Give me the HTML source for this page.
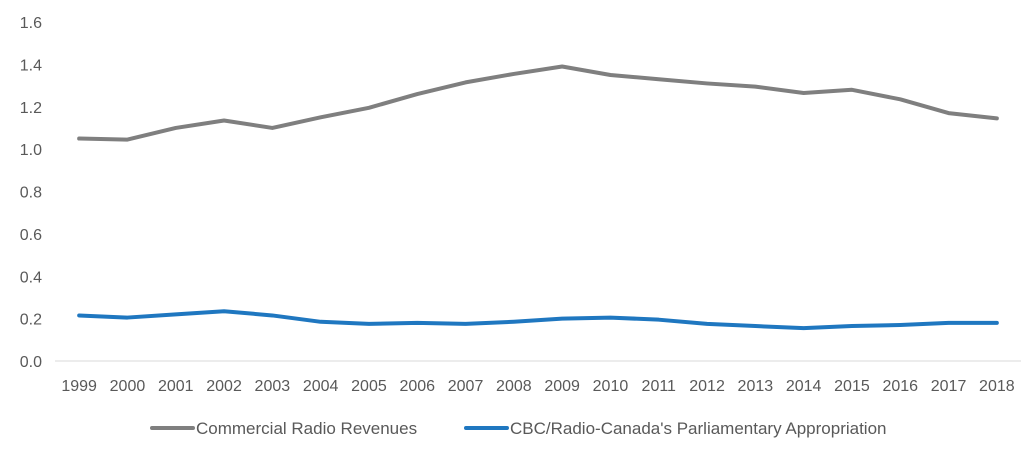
<!DOCTYPE html>
<html><head><meta charset="utf-8"><style>
body{margin:0;background:#fff;}
svg text{font-family:"Liberation Sans",sans-serif;fill:#595959;}
</style></head><body>
<svg id="chart" width="1031" height="458">
<g id="yaxis"></g>
<g id="xaxis"></g>
<g id="series"></g>
<g>
<g>
<line x1="152" y1="428" x2="193" y2="428" stroke="#7f7f7f" stroke-width="4" stroke-linecap="round"/>
<text x="196" y="434" font-size="17">Commercial Radio Revenues</text></g>
<g>
<line x1="466" y1="428" x2="507" y2="428" stroke="#1f77c0" stroke-width="4" stroke-linecap="round"/>
<text x="510" y="434" font-size="17">CBC/Radio-Canada's Parliamentary Appropriation</text></g>
</g>
</svg>
<script>
const years=[1999,2000,2001,2002,2003,2004,2005,2006,2007,2008,2009,2010,2011,2012,2013,2014,2015,2016,2017,2018];
const commercial=[1.05,1.045,1.10,1.135,1.10,1.15,1.195,1.26,1.315,1.355,1.39,1.35,1.33,1.31,1.295,1.265,1.28,1.235,1.17,1.145];
const cbc=[0.215,0.205,0.22,0.235,0.215,0.185,0.175,0.18,0.175,0.185,0.2,0.205,0.195,0.175,0.165,0.155,0.165,0.17,0.18,0.18];
const yTicks=[0,0.2,0.4,0.6,0.8,1.0,1.2,1.4,1.6];
const NS="http://www.w3.org/2000/svg";
const pLeft=55,pRight=1021,plotTop=22,pBottom=361,ymax=1.6;
const bw=(pRight-pLeft)/years.length;
const xs=i=>pLeft+bw*(i+0.5);
const ys=v=>pBottom-(v/ymax)*(pBottom-plotTop);
function mk(tag,attrs,parent){const e=document.createElementNS(NS,tag);for(const k in attrs)e.setAttribute(k,attrs[k]);parent.appendChild(e);return e;}
const ya=document.getElementById('yaxis'),xa=document.getElementById('xaxis'),sg=document.getElementById('series');
yTicks.forEach(t=>{const e=mk('text',{x:42,y:ys(t)+6,'font-size':16,'text-anchor':'end'},ya);e.textContent=t.toFixed(1);

});
const bl=mk('line',{x1:pLeft,x2:pRight,y1:pBottom,y2:pBottom,stroke:'#d9d9d9','stroke-width':1},xa);


years.forEach((yr,i)=>{const e=mk('text',{x:xs(i),y:391,'font-size':16,'text-anchor':'middle'},xa);e.textContent=yr;

});
function line(vals,color,name){const p=mk('polyline',{points:vals.map((v,i)=>xs(i)+','+ys(v)).join(' '),fill:'none',stroke:color,'stroke-width':4,'stroke-linejoin':'round','stroke-linecap':'round'},sg);

}
line(commercial,'#7f7f7f','commercial-radio-line');
line(cbc,'#1f77c0','cbc-appropriation-line');
</script>
</body></html>
